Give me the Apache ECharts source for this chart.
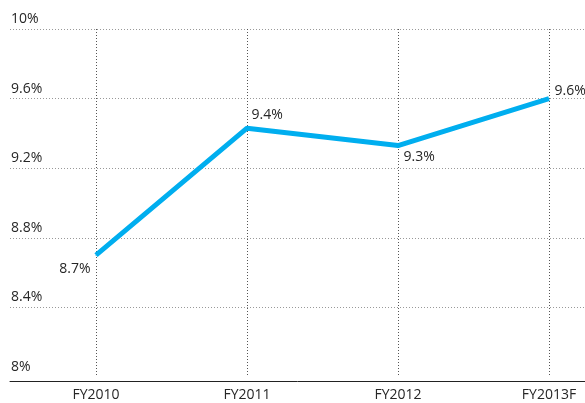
<!DOCTYPE html>
<html>
<head>
<meta charset="utf-8">
<script src="https://cdn.jsdelivr.net/npm/echarts@6/dist/echarts.min.js"></script>
<style>
html, body { margin: 0; padding: 0; background: #fff; }
#main { width: 585px; height: 403px; }
</style>
</head>
<body>
<div id="main"></div>
<script>
var categories = ['FY2010', 'FY2011', 'FY2012', 'FY2013F'];
var values = [8.7, 9.43, 9.33, 9.6];
// label offsets next to each point
var labelPos = [[-5, 14, 'right'], [5, -13, 'left'], [6, 12, 'left'], [6, -7, 'left']];

var font = '"Open Sans", sans-serif';
var myChart = echarts.init(document.getElementById('main'));

var points = values.map(function (v, i) {
	return {
		value: v,
		label: {
			position: [labelPos[i][0], labelPos[i][1]],
			align: labelPos[i][2],
			verticalAlign: 'middle'
		}
	};
});

myChart.setOption({
	animation: false,
	grid: [
		{ left: 10, right: 0, top: 29, bottom: 26 },
		{ left: 96, right: 36, top: 29, bottom: 26 }
	],
	xAxis: [{
		gridIndex: 0,
		type: 'value',
		min: 0,
		max: 1,
		offset: 4,
		axisLine: { show: true, lineStyle: { color: '#222', width: 1 } },
		axisTick: { show: false },
		axisLabel: { show: false },
		splitLine: { show: false }
	}, {
		gridIndex: 1,
		type: 'category',
		boundaryGap: false,
		data: categories,
		axisLine: { show: false },
		axisTick: { show: false },
		axisLabel: { margin: 11, color: '#262626', fontSize: 14, fontFamily: font },
		splitLine: { show: true, lineStyle: { color: '#555', type: [1, 2], width: 1 } }
	}],
	yAxis: [{
		gridIndex: 0,
		type: 'value',
		min: 8,
		max: 10,
		interval: 0.4,
		axisLine: { show: false },
		axisTick: { show: false },
		axisLabel: {
			inside: true,
			margin: 1,
			color: '#262626',
			fontSize: 14,
			fontFamily: font,
			verticalAlign: 'bottom',
			lineHeight: 14,
			padding: [0, 0, 3, 0],
			formatter: function (v) { return (Math.round(v * 10) / 10) + '%'; }
		},
		splitLine: { show: true, showMinLine: false, lineStyle: { color: '#999', type: [1, 2], width: 1 } }
	}, {
		gridIndex: 1,
		type: 'value',
		min: 8,
		max: 10,
		show: false
	}],
	series: [{
		type: 'line',
		xAxisIndex: 1,
		yAxisIndex: 1,
		data: points,
		symbol: 'circle',
		symbolSize: 1,
		showSymbol: true,
		itemStyle: { color: '#00aeef' },
		lineStyle: { color: '#00aeef', width: 5 },
		label: {
			show: true,
			color: '#262626',
			fontSize: 14,
			fontFamily: font,
			formatter: function (p) { return p.value.toFixed(1) + '%'; }
		}
	}]
});
</script>
</body>
</html>
